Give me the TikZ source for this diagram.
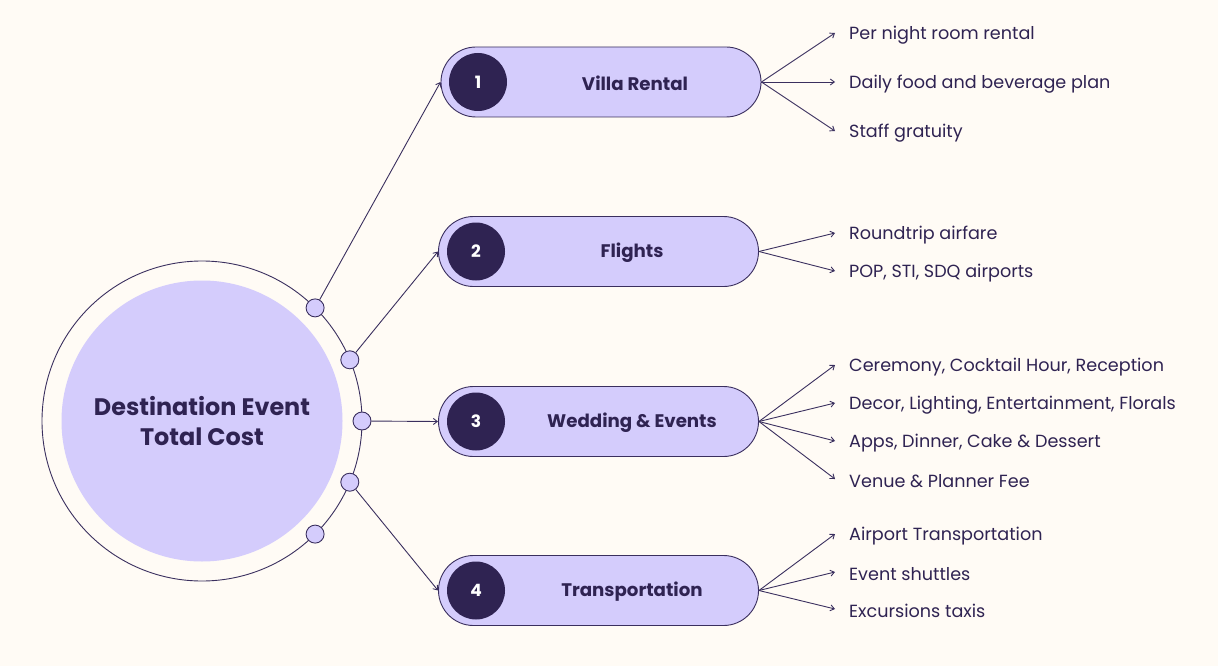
\documentclass[tikz,border=0pt]{standalone}
\usepackage{fontspec}
\setmainfont{Poppins}
\usetikzlibrary{arrows.meta}
\definecolor{bg}{HTML}{FFFBF5}
\definecolor{lav}{HTML}{D4CCFC}
\definecolor{dark}{HTML}{2F2352}
\definecolor{ln}{HTML}{3A2F5E}
\tikzset{
  x=1pt,y=-1pt,
  pill/.style={draw=ln,line width=0.9pt,fill=lav,minimum width=320pt,minimum height=70pt,rounded corners=35pt,inner sep=0pt},
  num/.style={circle,fill=dark,minimum size=58pt,inner sep=0pt,text=white,font=\fontsize{17}{20}\selectfont\bfseries},
  plabel/.style={text=dark,font=\fontsize{18.2}{22}\selectfont\bfseries},
  dot/.style={circle,draw=ln,line width=0.9pt,fill=lav,minimum size=18pt,inner sep=0pt},
  conn/.style={draw=ln,line width=0.9pt,-{Straight Barb[length=4pt,width=6pt]}},
  item/.style={anchor=west,text=dark,font=\fontsize{17.6}{21}\selectfont,inner sep=0pt},
}
\begin{document}
\begin{tikzpicture}
\fill[bg] (0,0) rectangle (1218,666);
\useasboundingbox (0,0) rectangle (1218,666);
% central
\node[circle,draw=ln,line width=0.9pt,minimum size=320pt,inner sep=0pt] (outer) at (202,421) {};
\node[circle,fill=lav,minimum size=281pt,inner sep=0pt,text=dark,align=center,font=\fontsize{23.9}{29.5}\selectfont\bfseries] (core) at (202,421) {Destination Event\\Total Cost};
% dots
\node[dot] (d1) at (315.1,307.9) {};
\node[dot] (d2) at (349.8,359.8) {};
\node[dot] (d3) at (362,421) {};
\node[dot] (d4) at (349.8,482.2) {};
\node[dot] (d5) at (315.1,534.1) {};
% pills
\node[pill] (p1) at (601,82) {};
\node[pill] (p2) at (598.5,251.5) {};
\node[pill] (p3) at (598.5,421.5) {};
\node[pill] (p4) at (598.5,590.5) {};
\node[num] (n1) at (478,82) {1};
\node[num] (n2) at (476,251.5) {2};
\node[num] (n3) at (476,421.5) {3};
\node[num] (n4) at (476,590.5) {4};
\node[plabel] (l1) at (635,83) {Villa Rental};
\node[plabel] (l2) at (632,252.5) {Flights};
\node[plabel] (l3) at (632,422.5) {Wedding \& Events};
\node[plabel] (l4) at (632,591.5) {Transportation};
% connectors from hub
\draw[conn] (d1) -- (p1.west);
\draw[conn] (d2) -- (p2.west);
\draw[conn] (d3) -- (p3.west);
\draw[conn] (d4) -- (p4.west);
% items
\coordinate (a11) at (835,33);
\coordinate (a12) at (835,82);
\coordinate (a13) at (835,131);
\node[item] (t11) at (849,35) {Per night room rental};
\node[item] (t12) at (849,84) {Daily food and beverage plan};
\node[item] (t13) at (849,133) {Staff gratuity};
\coordinate (a21) at (835,233);
\coordinate (a22) at (835,271);
\node[item] (t21) at (849,235) {Roundtrip airfare};
\node[item] (t22) at (849,273) {POP, STI, SDQ airports};
\coordinate (a31) at (835,365);
\coordinate (a32) at (835,403);
\coordinate (a33) at (835,441);
\coordinate (a34) at (835,479);
\node[item] (t31) at (849,367) {Ceremony, Cocktail Hour, Reception};
\node[item] (t32) at (849,405) {Decor, Lighting, Entertainment, Florals};
\node[item] (t33) at (849,443) {Apps, Dinner, Cake \& Dessert};
\node[item] (t34) at (849,481) {Venue \& Planner Fee};
\coordinate (a41) at (835,534);
\coordinate (a42) at (835,572);
\coordinate (a43) at (835,609);
\node[item] (t41) at (849,536) {Airport Transportation};
\node[item] (t42) at (849,574) {Event shuttles};
\node[item] (t43) at (849,611) {Excursions taxis};
\foreach \i in {1,2,3}{\draw[conn] (p1.east) -- (a1\i);}
\foreach \i in {1,2}{\draw[conn] (p2.east) -- (a2\i);}
\foreach \i in {1,2,3,4}{\draw[conn] (p3.east) -- (a3\i);}
\foreach \i in {1,2,3}{\draw[conn] (p4.east) -- (a4\i);}
\end{tikzpicture}
\end{document}
